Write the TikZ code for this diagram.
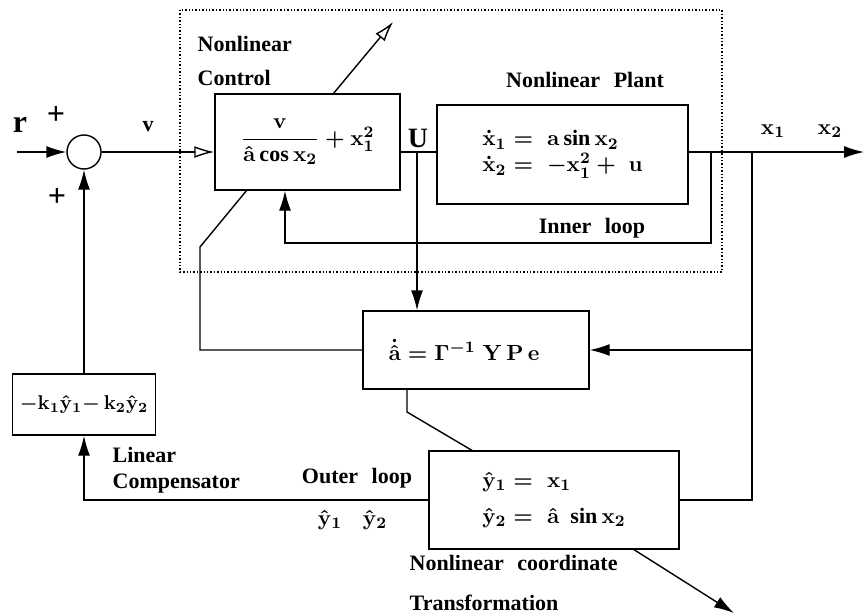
\documentclass[tikz,border=0pt]{standalone}
\usepackage{fontspec}
\setmainfont{Liberation Serif}
\usepackage{amsmath}
\usetikzlibrary{shapes,arrows.meta,positioning,calc}

\begin{document}
\begin{tikzpicture}[
    x=0.5pt, y=-0.5pt, line width=0.7pt,
    font=\fontsize{11}{13}\selectfont\bfseries\boldmath,
    block/.style={rectangle, draw, fill=white, align=left, inner sep=0pt},
    sum/.style={circle, draw, minimum size=17pt, inner sep=0pt},
    line/.style={draw, -{Latex[length=10pt, width=6pt]}},
    openline/.style={draw, -{Latex[open, length=10pt, width=6pt]}},
    wire/.style={draw},
    lbl/.style={inner sep=1pt, align=left}
]

\useasboundingbox (0,0) rectangle (865,615);
\draw [densely dotted] (180,10) rectangle (722,272);

\node [sum] (sum) at (84,152) {};
\node [block, align=center, minimum width=92.5pt, minimum height=48pt] (ctrl) at (307.5,142) {$\dfrac{\mathbf{v}}{\hat{\mathbf{a}}\cos\mathbf{x}_2} + \mathbf{x}_1^2$};
\node [block, minimum width=125.5pt, minimum height=49.5pt] (plant) at (562.5,154.5) {$\dot{\mathbf{x}}_1 = \;\mathbf{a}\sin\mathbf{x}_2$\\$\dot{\mathbf{x}}_2 = \;-\mathbf{x}_1^2 + \;\mathbf{u}$};
\node [block, minimum width=113pt, minimum height=39pt] (adapt) at (476,350) {$\dot{\hat{\mathbf{a}}} = \Gamma^{-1}\;\mathbf{Y\,P\,e}$\hspace{12pt}};
\node [block, minimum width=125pt, minimum height=49pt] (trans) at (554,500) {$\hat{\mathbf{y}}_1 = \;\mathbf{x}_1$\\[5pt]$\hat{\mathbf{y}}_2 = \;\hat{\mathbf{a}}\;\sin\mathbf{x}_2$};
\node [block, align=center, minimum width=71.5pt, minimum height=30.5pt, font=\fontsize{10}{12}\selectfont\bfseries\boldmath] (comp) at (84,404.5) {${-}\mathbf{k}_1\hat{\mathbf{y}}_1{-}\,\mathbf{k}_2\hat{\mathbf{y}}_2$};

\coordinate (rin) at (17,152);
\coordinate (utap) at (417,152);
\coordinate (intap) at (711,152);
\coordinate (outtap) at (752,152);
\coordinate (out) at (864,152);
\coordinate (inbot) at (285,243);
\coordinate (adkink) at (200,247);
\coordinate (ctrlfoot) at (247,190);
\coordinate (trkink) at (407,412);
\coordinate (trtop) at (473,451);
\coordinate (ctrltop) at (333,94);
\coordinate (ctrlup) at (393,22);
\coordinate (trfoot) at (633,549);
\coordinate (trdown) at (734,613);

\path [line] (rin) -- (sum);
\path [openline] (sum) -- (sum -| ctrl.west);
\path [wire] (ctrl.east |- utap) -- (plant.west |- utap);
\path [line] (plant.east |- out) -- (out);
\path [line] (intap) |- (inbot) -- (inbot |- ctrl.south);
\path [line] (utap) -- (utap |- adapt.north);
\path [wire] (adapt.west) -| (adkink) -- (ctrlfoot);
\path [wire] (outtap) |- (trans.east);
\path [line] (outtap |- adapt.east) -- (adapt.east);
\path [wire] (adapt.south -| trkink) -- (trkink) -- (trtop);
\path [line] (trans.west) -| (comp.south);
\path [line] (comp.north) -- (sum.south);
\path [openline] (ctrltop) -- (ctrlup);
\path [line] (trfoot) -- (trdown);

\node [lbl, font=\fontsize{16}{18}\selectfont\bfseries] (rlabel) at (20,125) {r};
\node [lbl, font=\fontsize{16}{18}\selectfont\bfseries] (plustop) at (56,115) {+};
\node [lbl, font=\fontsize{16}{18}\selectfont\bfseries] (plusbot) at (57,197) {+};
\node [lbl] (vlabel) at (148,127) {v};
\node [lbl, font=\fontsize{14}{16}\selectfont\bfseries] (ulabel) at (418,138) {U};
\node [lbl, anchor=west] (ctrlname) at (195,61) {Nonlinear\\[4pt]Control};
\node [lbl] (plantname) at (585,80) {Nonlinear\hspace{4pt} Plant};
\node [lbl] (innername) at (592,228) {Inner\hspace{4pt} loop};
\node [lbl] (xone) at (773,131) {$\mathbf{x}_1$};
\node [lbl] (xtwo) at (830,131) {$\mathbf{x}_2$};
\node [lbl, anchor=west] (compname) at (110,470) {Linear\\Compensator};
\node [lbl] (outername) at (357,478) {Outer\hspace{4pt} loop};
\node [lbl] (yone) at (330,520) {$\hat{\mathbf{y}}_1$};
\node [lbl] (ytwo) at (375,520) {$\hat{\mathbf{y}}_2$};
\node [lbl, anchor=west] (transname) at (407,583) {Nonlinear\hspace{4pt} coordinate\\[7pt]Transformation};

\end{tikzpicture}
\end{document}
